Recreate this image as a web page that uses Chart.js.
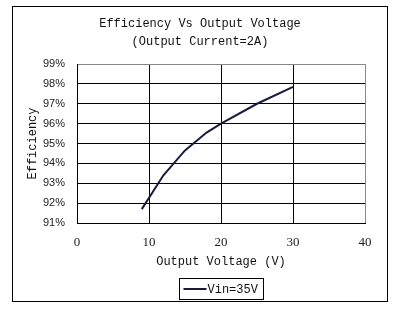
<!DOCTYPE html>
<html>
<head>
<meta charset="utf-8">
<script src="https://cdn.jsdelivr.net/npm/chart.js@4"></script>
<style>
  html, body { margin: 0; padding: 0; background: #fff; }
  #wrap { width: 413px; height: 323px; }
</style>
</head>
<body>
<div id="wrap"><canvas id="effChart" width="413" height="323"></canvas></div>
<script>
const voltage = [9, 12, 15, 18, 20, 25, 30];
const efficiency = [91.7, 93.4, 94.65, 95.55, 96.0, 97.0, 97.85];
const seriesLabel = 'Vin=35V';
const xTicks = [0, 10, 20, 30, 40];
const yTicks = [91, 92, 93, 94, 95, 96, 97, 98, 99];

const mono = 'Liberation Mono, DejaVu Sans Mono, monospace';

// outer frame + boxed legend under the x axis title
const framePlugin = {
  id: 'frame',
  afterLayout(chart) {
    // centre the title on the outer frame rather than on the padded box
    if (chart.titleBlock) chart.titleBlock.left += 15;
  },
  afterDraw(chart) {
    const ctx = chart.ctx;
    const area = chart.chartArea;
    ctx.save();
    ctx.strokeStyle = '#000';
    ctx.lineWidth = 1;
    ctx.strokeRect(12.5, 6.5, 375, 295);

    const ds = chart.data.datasets[0];
    const boxW = 84, boxH = 21;
    const bx = Math.round((area.left + area.right) / 2 - boxW / 2) + 0.5;
    const by = 278.5;
    ctx.strokeRect(bx, by, boxW, boxH);
    ctx.strokeStyle = ds.borderColor;
    ctx.lineWidth = 2;
    ctx.beginPath();
    ctx.moveTo(bx + 4, by + boxH / 2);
    ctx.lineTo(bx + 27, by + boxH / 2);
    ctx.stroke();
    ctx.fillStyle = '#111';
    ctx.font = '12px ' + mono;
    ctx.textBaseline = 'middle';
    ctx.textAlign = 'left';
    ctx.fillText(ds.label, bx + 28, by + boxH / 2 + 1);
    ctx.restore();
  }
};

new Chart(document.getElementById('effChart'), {
  type: 'line',
  data: {
    datasets: [{
      label: seriesLabel,
      data: voltage.map((v, i) => ({ x: v, y: efficiency[i] })),
      borderColor: '#1a1a3e',
      borderWidth: 2,
      pointRadius: 0,
      tension: 0,
      fill: false
    }]
  },
  options: {
    responsive: false,
    animation: false,
    layout: { padding: { left: 20, right: 48, top: 6, bottom: 50 } },
    plugins: {
      legend: { display: false },
      tooltip: { enabled: false },
      title: {
        display: true,
        text: ['Efficiency Vs Output Voltage', '(Output Current=2A)'],
        color: '#111',
        font: { family: mono, size: 12, weight: 'normal', lineHeight: 1.5 },
        padding: { top: 9, bottom: 13 }
      }
    },
    scales: {
      x: {
        type: 'linear',
        min: 0,
        max: 40,
        afterBuildTicks: s => { s.ticks = xTicks.map(v => ({ value: v })); },
        afterFit: s => { s.height = 50; },
        grid: {
          color: c => c.tick && c.tick.value === 40 ? '#888' : '#000',
          drawTicks: false
        },
        border: { color: '#000' },
        ticks: {
          color: '#222',
          padding: 12,
          font: { family: 'Liberation Serif, serif', size: 13 }
        },
        title: {
          display: true,
          text: 'Output Voltage (V)',
          color: '#111',
          font: { family: mono, size: 12 },
          padding: { top: 4 }
        }
      },
      y: {
        min: 91,
        max: 99,
        afterBuildTicks: s => { s.ticks = yTicks.map(v => ({ value: v })); },
        afterFit: s => { s.width = 57; },
        grid: {
          color: c => c.tick && c.tick.value === 99 ? '#888' : '#000',
          drawTicks: false
        },
        border: { color: '#000' },
        ticks: {
          color: '#222',
          padding: 12,
          font: { family: 'Liberation Sans, Arial, sans-serif', size: 11 },
          callback: v => v + '%'
        },
        title: {
          display: true,
          text: 'Efficiency',
          color: '#111',
          font: { family: mono, size: 12 },
          padding: { top: 6, bottom: 0 }
        }
      }
    }
  },
  plugins: [framePlugin]
});
</script>
</body>
</html>
